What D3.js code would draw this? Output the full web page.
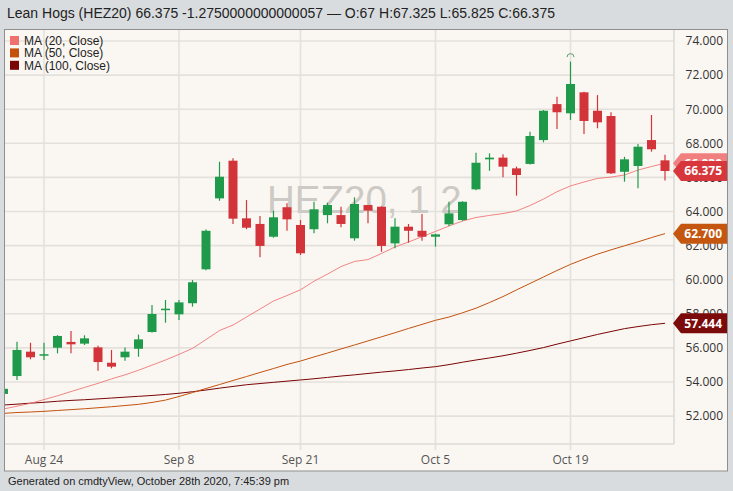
<!DOCTYPE html>
<html><head><meta charset="utf-8">
<script src="https://cdn.jsdelivr.net/npm/d3@7"></script>
<style>body{margin:0;background:#d9dcdf;} svg{display:block;}</style>
</head><body>
<svg id="c" width="733" height="491"></svg>
<script>
const dates = ["2020-08-19","2020-08-20","2020-08-21","2020-08-24","2020-08-25","2020-08-26","2020-08-27","2020-08-28","2020-08-31",
"2020-09-01","2020-09-02","2020-09-03","2020-09-04","2020-09-08","2020-09-09","2020-09-10","2020-09-11","2020-09-14","2020-09-15",
"2020-09-16","2020-09-17","2020-09-18","2020-09-21","2020-09-22","2020-09-23","2020-09-24","2020-09-25","2020-09-28","2020-09-29",
"2020-09-30","2020-10-01","2020-10-02","2020-10-05","2020-10-06","2020-10-07","2020-10-08","2020-10-09","2020-10-12","2020-10-13",
"2020-10-14","2020-10-15","2020-10-16","2020-10-19","2020-10-20","2020-10-21","2020-10-22","2020-10-23","2020-10-26","2020-10-27","2020-10-28"];
const openV  = [53.30,54.35,55.78,55.55,56.01,56.35,56.25,56.03,55.13,55.45,55.95,56.93,58.24,57.97,58.62,60.61,64.77,66.98,63.60,63.27,62.52,64.25,63.21,62.96,63.79,63.79,62.43,64.38,64.28,62.13,63.11,62.87,62.52,63.25,63.50,65.30,67.06,67.16,66.53,66.79,68.19,70.30,69.76,70.99,69.91,69.60,66.33,66.67,68.19,67.00];
const highV  = [53.70,56.36,56.30,56.30,56.75,56.99,56.74,56.13,55.88,56.03,56.78,58.52,58.81,58.81,59.98,62.95,66.92,67.12,64.67,63.74,64.05,64.48,63.50,64.57,64.52,64.28,64.83,64.40,64.30,63.60,63.27,63.85,62.70,64.57,64.60,67.45,67.41,67.36,66.63,68.68,69.95,70.73,72.79,71.03,70.83,69.82,67.21,67.96,69.66,67.325];
const lowV   = [53.20,54.12,55.33,55.29,55.68,55.68,56.17,54.66,54.80,55.25,55.48,56.90,57.48,57.64,58.42,60.55,64.63,63.27,62.96,61.31,62.46,62.87,61.45,62.72,63.31,63.07,62.29,63.31,61.64,61.84,62.17,62.29,61.94,63.15,63.45,65.25,66.39,66.01,64.93,66.75,68.06,68.84,69.37,68.55,68.88,66.20,65.75,65.36,67.51,65.825];
const closeV = [53.60,55.88,55.45,55.63,56.70,56.21,56.56,55.17,54.90,55.78,56.50,57.99,58.30,58.67,59.85,62.87,66.04,63.58,63.05,61.98,63.66,63.54,61.55,64.13,64.38,63.27,64.44,64.05,61.98,63.11,62.87,62.52,62.66,63.89,64.57,66.86,67.16,66.63,66.14,68.43,69.91,69.82,71.48,69.31,69.23,66.24,67.06,67.80,67.65,66.375];
const ma20  = [52.42,52.58,52.75,52.97,53.19,53.44,53.68,53.92,54.18,54.42,54.69,54.99,55.29,55.62,55.97,56.49,57.02,57.34,57.81,58.28,58.75,59.07,59.41,59.91,60.33,60.77,61.07,61.18,61.54,61.92,62.21,62.52,62.83,63.15,63.44,63.65,63.77,63.88,64.03,64.35,64.73,65.16,65.50,65.73,65.94,66.02,66.14,66.43,66.64,66.83];
const ma50  = [52.16,52.21,52.24,52.28,52.33,52.38,52.43,52.49,52.55,52.62,52.69,52.80,52.94,53.15,53.38,53.62,53.85,54.09,54.32,54.56,54.79,55.03,55.23,55.47,55.70,55.94,56.17,56.41,56.65,56.89,57.14,57.38,57.62,57.81,58.06,58.33,58.66,59.01,59.40,59.78,60.16,60.54,60.90,61.21,61.50,61.75,61.99,62.22,62.47,62.70];
const ma100 = [52.65,52.70,52.76,52.81,52.87,52.92,52.96,53.01,53.06,53.11,53.16,53.21,53.27,53.34,53.43,53.53,53.64,53.74,53.84,53.91,53.98,54.05,54.12,54.19,54.27,54.35,54.42,54.50,54.58,54.65,54.73,54.82,54.90,55.02,55.16,55.29,55.41,55.54,55.69,55.85,56.02,56.22,56.41,56.60,56.79,56.96,57.13,57.25,57.36,57.444];
const yTicks = [52,54,56,58,60,62,64,66,68,70,72,74];
const xTickDates = ["2020-08-24","2020-09-08","2020-09-21","2020-10-05","2020-10-19"];
const xTickLabels = ["Aug 24","Sep 8","Sep 21","Oct 5","Oct 19"];
const titleText = "Lean Hogs (HEZ20) 66.375 -1.2750000000000057 \u2014 O:67 H:67.325 L:65.825 C:66.375";
const legendNames = ["MA (20, Close)","MA (50, Close)","MA (100, Close)"];
const maColors = ["#f07070","#c4520e","#7a0505"];
const footerText = "Generated on cmdtyView, October 28th 2020, 7:45:39 pm";
const watermarkText = "HEZ20, 1 2";

const svg = d3.select("#c");
const L = 4, R = 674, T = 29, B = 444, FR = 727.5, FB = 471;
const up = "#1f9a4a", down = "#d2343a";

svg.append("rect").attr("width",733).attr("height",491).attr("fill","#d9dcdf");
svg.append("rect").attr("x",L+0.5).attr("y",T+0.5).attr("width",FR-L-0.5).attr("height",FB-T-0.5)
  .attr("fill","#faf7f2").attr("stroke","#8f8f8f").attr("stroke-width",1);

const x = d3.scalePoint().domain(dates).range([3.5, 665]);
const y = d3.scaleLinear().domain([50.364, 74.704]).range([B, T]);

// grid
const g = svg.append("g");
g.selectAll(".hg").data(yTicks).join("line")
  .attr("x1",L+1).attr("x2",R).attr("y1",d=>y(d)).attr("y2",d=>y(d))
  .attr("stroke","#e4e1dc").attr("stroke-width",1.6);
g.selectAll(".vg").data(xTickDates).join("line")
  .attr("x1",d=>x(d)).attr("x2",d=>x(d)).attr("y1",T+1).attr("y2",B+6)
  .attr("stroke","#e4e1dc").attr("stroke-width",1.6);
// separators
svg.append("line").attr("x1",L+1).attr("x2",R).attr("y1",B).attr("y2",B).attr("stroke","#dedbd6").attr("stroke-width",1.6);
svg.append("line").attr("x1",R).attr("x2",R).attr("y1",T+1).attr("y2",B).attr("stroke","#dedbd6").attr("stroke-width",1.6);

// watermark
svg.append("text").attr("x",267).attr("y",213).text(watermarkText)
  .attr("font-family","Liberation Sans, Arial, sans-serif").attr("font-size",38.5)
  .attr("fill","#cdcac5");

// clip
svg.append("clipPath").attr("id","clip").append("rect").attr("x",L+1).attr("y",T+1).attr("width",R-L-1).attr("height",B-T-1);
const plot = svg.append("g").attr("clip-path","url(#clip)");

const lineGen = arr => d3.line().x((d,i)=>x(dates[i])).y(d=>y(d))(arr);
[ma100, ma50, ma20].forEach((arr,k)=>{
  const col = [maColors[2], maColors[1], maColors[0]][k];
  plot.append("path").attr("d",lineGen(arr)).attr("fill","none").attr("stroke",col)
    .attr("stroke-width",1).attr("opacity",k===2?0.85:1);
});

const candles = dates.map((d,i)=>({d,o:openV[i],h:highV[i],l:lowV[i],c:closeV[i]}));
const cg = plot.selectAll(".cd").data(candles).join("g");
cg.append("line").attr("x1",d=>x(d.d)).attr("x2",d=>x(d.d)).attr("y1",d=>y(d.h)).attr("y2",d=>y(d.l))
  .attr("stroke",d=>d.c>=d.o?up:down).attr("stroke-width",1.2);
cg.append("rect").attr("x",d=>x(d.d)-4.5).attr("width",9)
  .attr("y",d=>y(Math.max(d.o,d.c))).attr("height",d=>Math.max(1.5,Math.abs(y(d.o)-y(d.c))))
  .attr("fill",d=>d.c>=d.o?up:down);

// high marker arc above the max
const hiIdx = highV.indexOf(d3.max(highV));
const hx = x(dates[hiIdx]), hy = y(highV[hiIdx]) - 6;
plot.append("path").attr("d",`M${hx-3.5},${hy+1.5} A3.5,3.5 0 0 1 ${hx+3.5},${hy+1.5}`)
  .attr("fill","none").attr("stroke","#5f9c73").attr("stroke-width",1);

// legend
const lg = svg.append("g");
legendNames.forEach((n,i)=>{
  const cy = 40.5 + i*12.4;
  lg.append("rect").attr("x",10).attr("y",cy-4.5).attr("width",9).attr("height",9).attr("fill",maColors[i]);
  lg.append("text").attr("x",24).attr("y",cy+4.3).text(n)
    .attr("font-family","Liberation Sans, Arial, sans-serif").attr("font-size",12).attr("fill","#222");
});

// y axis labels
svg.selectAll(".yl").data(yTicks).join("text")
  .attr("x",723).attr("y",d=>y(d)+4.3).attr("text-anchor","end")
  .text(d=>d3.format(".3f")(d))
  .attr("font-family","Open Sans, sans-serif").attr("font-size",12).attr("fill","#333");

// x axis labels
svg.selectAll(".xl").data(xTickDates).join("text")
  .attr("x",d=>x(d)).attr("y",464).attr("text-anchor","middle")
  .text((d,i)=>xTickLabels[i])
  .attr("font-family","Open Sans, sans-serif").attr("font-size",12).attr("fill","#555");

// price tags
const tags = [
  {v: ma20[ma20.length-1], col:"#f07f7f", txt:null},
  {v: ma100[ma100.length-1], col:"#7b0a0a"},
  {v: ma50[ma50.length-1], col:"#c4560f"},
  {v: closeV[closeV.length-1], col:"#d6363c"}
];
tags.forEach(t=>{
  const cy = y(t.v);
  svg.append("path").attr("d",`M673,${cy} L681,${cy-10} L727,${cy-10} L727,${cy+10} L681,${cy+10} Z`).attr("fill",t.col);
  svg.append("text").attr("x",722).attr("y",cy+4.3).attr("text-anchor","end").text(d3.format(".3f")(t.v))
    .attr("font-family","Open Sans, sans-serif").attr("font-size",12).attr("font-weight","bold").attr("fill","#fff");
});

// title & footer
svg.append("text").attr("x",7).attr("y",18).text(titleText)
  .attr("font-family","Liberation Sans, Arial, sans-serif").attr("font-size",14).attr("fill","#222");
svg.append("text").attr("x",8).attr("y",485).text(footerText)
  .attr("font-family","Liberation Sans, Arial, sans-serif").attr("font-size",11).attr("fill","#222");
</script>
</body></html>
